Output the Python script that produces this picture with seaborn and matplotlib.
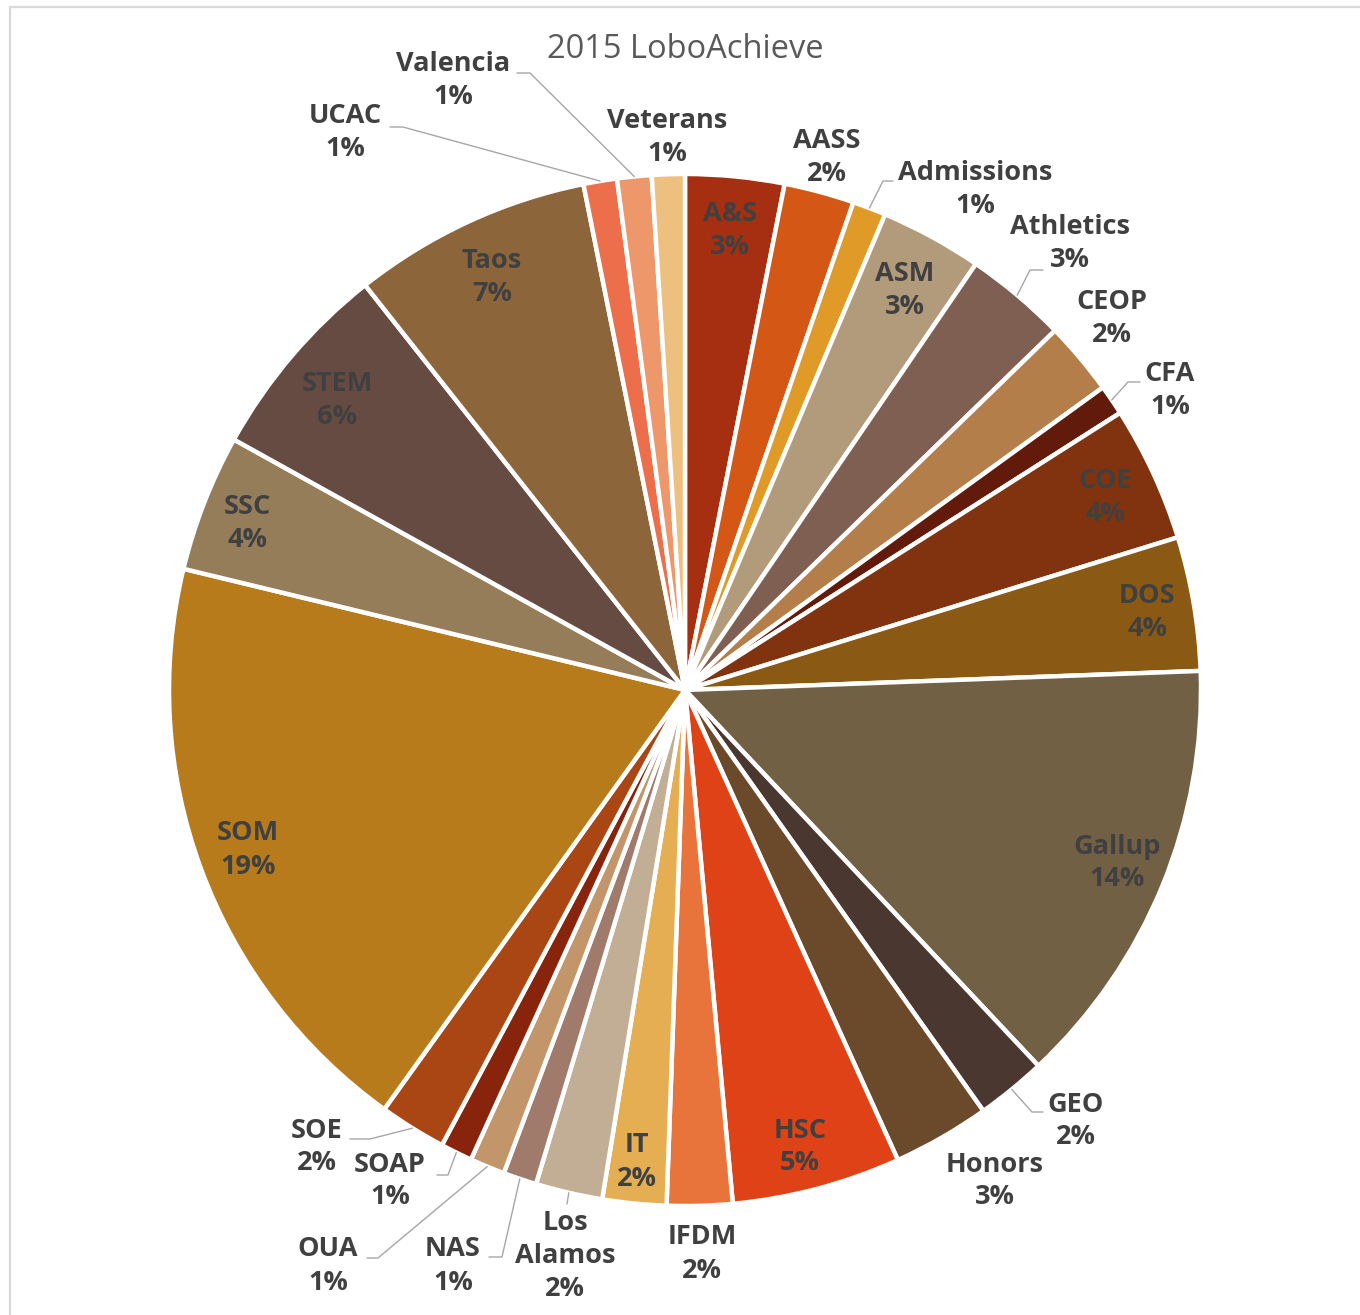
import matplotlib
matplotlib.use("Agg")
import matplotlib.pyplot as plt
import seaborn as sns
import numpy as np
from matplotlib.patches import Rectangle

# ---------------- data ----------------
categories = ["A&S", "AASS", "Admissions", "ASM", "Athletics", "CEOP", "CFA",
              "COE", "DOS", "Gallup", "GEO", "Honors", "HSC", "IFDM", "IT",
              "Los Alamos", "NAS", "OUA", "SOAP", "SOE", "SOM", "SSC", "STEM",
              "Taos", "UCAC", "Valencia", "Veterans"]
values = [3.1, 2.2, 1.05, 3.2, 3.2, 2.3, 0.95,
          4.25, 4.2, 13.6, 2.2, 3.05, 5.3, 2.05, 2.0,
          2.1, 1.05, 1.1, 1.0, 2.1, 18.9, 4.3, 6.3,
          7.5, 1.05, 1.08, 1.03]
pct_labels = [3, 2, 1, 3, 3, 2, 1,
              4, 4, 14, 2, 3, 5, 2, 2,
              2, 1, 1, 1, 2, 19, 4, 6,
              7, 1, 1, 1]
colors = ["#A52F10", "#D45716", "#E09A28", "#B29B7B", "#7E5F52", "#B47E4B", "#621B0B",
          "#80330E", "#8A5A15", "#716044", "#4A3730", "#6B4A2C", "#DF4217", "#E8743B",
          "#E6AE52", "#C2AE95", "#A07B6C", "#C3956B", "#88240C", "#AA4613", "#B77B1C",
          "#967D5A", "#664B42", "#8C653B", "#EC6E4A", "#EE976A", "#EEC07F"]
title = "2015 LoboAchieve"

# ---------------- layout (image pixel coords, y down) ----------------
W, H = 1360, 1315
CX, CY, R = 685, 690, 516

label_pos = {
    "A&S": (730, 230), "AASS": (827, 157), "Admissions": (975, 189),
    "ASM": (905, 290), "Athletics": (1070, 243), "CEOP": (1112, 318),
    "CFA": (1170, 390), "COE": (1105, 497), "DOS": (1147, 612),
    "Gallup": (1117, 863), "GEO": (1076, 1121), "Honors": (995, 1181),
    "HSC": (800, 1147), "IFDM": (702, 1254), "IT": (637, 1162),
    "Los Alamos": (565, 1256), "NAS": (453, 1266), "OUA": (328, 1266),
    "SOAP": (390, 1181), "SOE": (317, 1147), "SOM": (248, 850),
    "SSC": (247, 523), "STEM": (337, 400), "Taos": (492, 277),
    "UCAC": (345, 132), "Valencia": (453, 80), "Veterans": (667, 137),
}
leaders = {
    "Admissions": [(883, 181), (893, 181)],
    "Athletics": [(1030, 270), (1043, 270)],
    "CFA": [(1128, 382), (1140, 382)],
    "GEO": [(1032, 1112), (1043, 1112)],
    "Los Alamos": [(567, 1204)],
    "NAS": [(502, 1257), (489, 1257)],
    "OUA": [(378, 1258), (367, 1258)],
    "SOAP": [(448, 1175), (437, 1175)],
    "SOE": [(370, 1139), (350, 1139)],
    "UCAC": [(403, 127), (390, 127)],
    "Valencia": [(530, 73), (517, 73)],
}


def P(x, y):
    return (x, H - y)


sns.set_theme(style="white")
plt.rcParams["font.family"] = ["Open Sans", "DejaVu Sans"]

fig = plt.figure(figsize=(W / 100, H / 100), dpi=100)
ax = fig.add_axes([0, 0, 1, 1])

wedges, _ = ax.pie(values, colors=colors, startangle=90, counterclock=False,
                   center=P(CX, CY), radius=R,
                   wedgeprops=dict(edgecolor="white", linewidth=3.2))
ax.set_xlim(0, W)
ax.set_ylim(0, H)
ax.set_aspect("equal")
ax.axis("off")

# chart border
ax.add_patch(Rectangle(P(10, H + 40), W + 40, H + 40 - 7, fill=False,
                       edgecolor="#d9d9d9", linewidth=1.6, zorder=0))

txt_color = "#404040"
for w, name, pct in zip(wedges, categories, pct_labels):
    x, y = label_pos[name]
    text = name.replace(" ", "\n") + "\n" + f"{pct}%"
    ax.text(*P(x, y), text, ha="center", va="center", fontsize=19.5,
            fontweight="bold", color=txt_color, linespacing=1.35, zorder=5)
    if name in leaders:
        mid = np.deg2rad((w.theta1 + w.theta2) / 2)
        sx = w.center[0] + w.r * np.cos(mid)
        sy = w.center[1] + w.r * np.sin(mid)
        pts = [(sx, sy)] + [P(px, py) for px, py in leaders[name]]
        xs, ys = zip(*pts)
        ax.plot(xs, ys, color="#a6a6a6", linewidth=1.0, zorder=4)

ax.text(*P(685, 49), title, ha="center", va="center", fontsize=23.5,
        color="#595959")

fig.savefig("out.png", dpi=100)
